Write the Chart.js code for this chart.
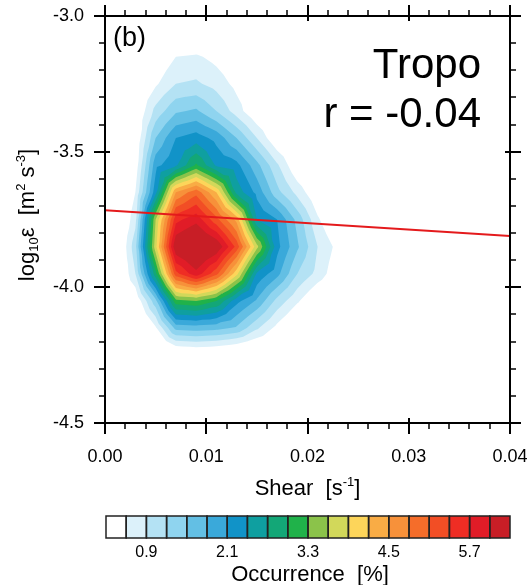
<!DOCTYPE html>
<html>
<head>
<meta charset="utf-8">
<script src="https://cdn.jsdelivr.net/npm/chart.js@4.4.1/dist/chart.umd.min.js"></script>
<style>
  html, body { margin: 0; padding: 0; background: #fff; }
  #wrap { width: 529px; height: 585px; }
</style>
</head>
<body>
<div id="wrap"><canvas id="chart" width="529" height="585"></canvas></div>
<script>
// Shear bin centres [s^-1]
const shearBins = [0.001, 0.003, 0.005, 0.007, 0.009, 0.011, 0.013, 0.015, 0.017, 0.019, 0.021, 0.023, 0.025];
// log10(epsilon) bin centres [m^2 s^-3]
const logEpsBins = [-3.05, -3.15, -3.25, -3.35, -3.45, -3.55, -3.65, -3.75, -3.85, -3.95, -4.05, -4.15, -4.25, -4.35];
// Occurrence [%]: one row per logEpsBins entry, one column per shearBins entry
const occurrence = [
  [0,    0,    0,    0,    0,    0,    0,    0,    0,    0,    0,    0,    0  ], // -3.05
  [0,    0,    0.3,  0.6,  0.65, 0.5,  0.3,  0.1,  0,    0,    0,    0,    0  ], // -3.15
  [0,    0.2,  0.55, 0.9,  0.95, 0.78, 0.5,  0.25, 0.05, 0,    0,    0,    0  ], // -3.25
  [0,    0.25, 1.0,  1.45, 1.55, 1.2,  0.75, 0.3,  0.05, 0,    0,    0,    0  ], // -3.35
  [0,    0.3,  1.5,  2.1,  2.25, 2.0,  1.5,  0.9,  0.3,  0.05, 0,    0,    0  ], // -3.45
  [0,    0.4,  2.0,  2.35, 3.05, 2.35, 2.2,  1.6,  0.95, 0.3,  0,    0,    0  ], // -3.55
  [0,    0.6,  2.3,  4.5,  5.0,  4.2,  2.6,  2.0,  1.3,  0.8,  0.3,  0,    0  ], // -3.65
  [0,    0.8,  3.6,  5.6,  5.9,  5.2,  4.4,  2.4,  2.1,  1.4,  0.65, 0.2,  0  ], // -3.75
  [0,    1.1,  3.8,  6.3,  6.6,  6.3,  5.3,  3.7,  2.2,  1.55, 0.9,  0.5,  0.1], // -3.85
  [0,    0.9,  2.9,  5.3,  5.9,  5.2,  4.0,  2.35, 1.9,  1.2,  0.8,  0.35, 0  ], // -3.95
  [0,    0.3,  1.4,  3.2,  3.3,  3.0,  2.2,  1.75, 1.1,  0.65, 0.2,  0,    0  ], // -4.05
  [0,    0,    0.55, 1.6,  1.65, 1.6,  1.45, 0.95, 0.5,  0.1,  0,    0,    0  ], // -4.15
  [0,    0,    0,    0.1,  0.16, 0.12, 0,    0,    0,    0,    0,    0,    0  ], // -4.25
  [0,    0,    0,    0,    0,    0,    0,    0,    0,    0,    0,    0,    0  ]  // -4.35
];
// Contour levels [%] and the fill used above each one
const contourLevels = [0.6, 0.9, 1.2, 1.5, 1.8, 2.1, 2.4, 2.7, 3.0, 3.3, 3.6, 3.9, 4.2, 4.5, 4.8, 5.1, 5.4, 5.7, 6.0];
const levelColors = [
  '#dcf1fa', '#b4e2f4', '#8fd4ef', '#63bfe4', '#3aa9da', '#1193c8', '#0f9fa0', '#13a777',
  '#20b24a', '#8bc34a', '#d2d85a', '#fdd55a', '#f9ac45', '#f7913a', '#f56d2a', '#f24e25',
  '#ef2d24', '#e11c27', '#c81e26'
];
// Linear fit of log10(epsilon) against shear
const fitShear = [0, 0.04];
const fitLogEps = [-3.716, -3.811];
// Axis ticks
const shearTicks = [0, 0.01, 0.02, 0.03, 0.04];
const logEpsTicks = [-4.5, -4.0, -3.5, -3.0];

const FONT = "'Liberation Sans', Arial, Helvetica, sans-serif";

// Keep the part of a triangle where the interpolated value is >= lev
function clipAbove(poly, lev) {
  const out = [];
  for (let i = 0; i < poly.length; i++) {
    const a = poly[i], b = poly[(i + 1) % poly.length];
    const ain = a.v >= lev, bin = b.v >= lev;
    if (ain) out.push(a);
    if (ain !== bin) {
      const t = (lev - a.v) / (b.v - a.v);
      out.push({ x: a.x + t * (b.x - a.x), y: a.y + t * (b.y - a.y), v: lev });
    }
  }
  return out;
}

const contourPlugin = {
  id: 'occurrenceContours',
  beforeDatasetsDraw(chart) {
    const { ctx, chartArea: a, scales: { x, y } } = chart;
    const px = shearBins.map(v => x.getPixelForValue(v));
    const py = logEpsBins.map(v => y.getPixelForValue(v));
    ctx.save();
    ctx.beginPath();
    ctx.rect(a.left, a.top, a.right - a.left, a.bottom - a.top);
    ctx.clip();
    contourLevels.forEach((lev, k) => {
      ctx.beginPath();
      for (let j = 0; j < py.length - 1; j++) {
        for (let i = 0; i < px.length - 1; i++) {
          const c = [
            { x: px[i],     y: py[j],     v: occurrence[j][i] },
            { x: px[i + 1], y: py[j],     v: occurrence[j][i + 1] },
            { x: px[i + 1], y: py[j + 1], v: occurrence[j + 1][i + 1] },
            { x: px[i],     y: py[j + 1], v: occurrence[j + 1][i] }
          ];
          if (Math.max(c[0].v, c[1].v, c[2].v, c[3].v) < lev) continue;
          const m = {
            x: (c[0].x + c[1].x) / 2,
            y: (c[0].y + c[3].y) / 2,
            v: (c[0].v + c[1].v + c[2].v + c[3].v) / 4
          };
          for (let t = 0; t < 4; t++) {
            const poly = clipAbove([c[t], c[(t + 1) % 4], m], lev);
            if (poly.length < 3) continue;
            ctx.moveTo(poly[0].x, poly[0].y);
            for (let q = 1; q < poly.length; q++) ctx.lineTo(poly[q].x, poly[q].y);
            ctx.closePath();
          }
        }
      }
      ctx.fillStyle = levelColors[k];
      ctx.fill();
    });
    ctx.restore();
  }
};

// Text made of runs with their own size and vertical shift (sub/superscripts)
function richWidth(ctx, runs) {
  let w = 0;
  runs.forEach(r => { ctx.font = r.size + 'px ' + FONT; w += ctx.measureText(r.t).width; });
  return w;
}
function drawRich(ctx, runs, cx, baseline) {
  let xx = cx - richWidth(ctx, runs) / 2;
  runs.forEach(r => {
    ctx.font = r.size + 'px ' + FONT;
    ctx.fillText(r.t, xx, baseline + (r.dy || 0));
    xx += ctx.measureText(r.t).width;
  });
}

const decorPlugin = {
  id: 'frameTicksTitles',
  afterDraw(chart) {
    const { ctx, chartArea: a, scales: { x, y } } = chart;
    ctx.save();
    ctx.strokeStyle = '#000';
    ctx.lineCap = 'butt';

    // tick marks on all four sides
    const tick = (x1, y1, x2, y2, w) => {
      ctx.lineWidth = w; ctx.beginPath(); ctx.moveTo(x1, y1); ctx.lineTo(x2, y2); ctx.stroke();
    };
    for (let i = 0; i <= 20; i++) {
      const p = Math.round(x.getPixelForValue(x.min + i * (x.max - x.min) / 20));
      const major = i % 5 === 0;
      const out = major ? 11 : 6, inn = major ? 5 : 0, w = major ? 2 : 1.5;
      tick(p, a.bottom - inn, p, a.bottom + out, w);
      tick(p, a.top + inn, p, a.top - out, w);
    }
    for (let i = 0; i <= 15; i++) {
      const p = Math.round(y.getPixelForValue(y.min + i * (y.max - y.min) / 15));
      const major = i % 5 === 0;
      const out = major ? 11 : 6, inn = major ? 5 : 0, w = major ? 2 : 1.5;
      tick(a.left + inn, p, a.left - out, p, w);
      tick(a.right - inn, p, a.right + out, p, w);
    }
    // plot frame
    ctx.lineWidth = 2;
    ctx.strokeRect(a.left, a.top, a.right - a.left, a.bottom - a.top);

    ctx.fillStyle = '#000';
    ctx.textBaseline = 'alphabetic';
    // axis titles
    ctx.textAlign = 'left';
    drawRich(ctx, [
      { t: 'Shear  [s', size: 22 }, { t: '-1', size: 13, dy: -9 }, { t: ']', size: 22 }
    ], (a.left + a.right) / 2, 495);
    ctx.save();
    ctx.translate(34, 215);
    ctx.rotate(-Math.PI / 2);
    drawRich(ctx, [
      { t: 'log', size: 22 }, { t: '10', size: 13, dy: 4 }, { t: '\u03b5', size: 22 },
      { t: '  [m', size: 22 }, { t: '2', size: 13, dy: -9 }, { t: ' s', size: 22 },
      { t: '-3', size: 13, dy: -9 }, { t: ']', size: 22 }
    ], 0, 0);
    ctx.restore();

    // panel annotations
    ctx.font = '27px ' + FONT;
    ctx.textAlign = 'left';
    ctx.fillText('(b)', a.left + 8, 46);
    ctx.font = '42px ' + FONT;
    ctx.textAlign = 'right';
    ctx.fillText('Tropo', 481, 78);
    ctx.fillText('r = -0.04', 481, 127);

    // colour bar: one box below the first level, then one per level
    const nBox = contourLevels.length + 1;
    const bx0 = 106, bx1 = 510, by0 = 516, by1 = 538;
    const bw = (bx1 - bx0) / nBox;
    for (let k = 0; k < nBox; k++) {
      ctx.fillStyle = k === 0 ? '#ffffff' : levelColors[k - 1];
      ctx.fillRect(bx0 + k * bw, by0, bw, by1 - by0);
    }
    ctx.lineWidth = 1.5;
    ctx.strokeStyle = '#222';
    for (let k = 0; k < nBox; k++) ctx.strokeRect(bx0 + k * bw, by0, bw, by1 - by0);
    ctx.fillStyle = '#000';
    ctx.font = '16px ' + FONT;
    ctx.textAlign = 'center';
    ctx.textBaseline = 'middle';
    contourLevels.forEach((lev, k) => {
      if (k % 4 === 1) ctx.fillText(lev.toFixed(1), bx0 + (k + 1) * bw, 553);
    });
    ctx.textBaseline = 'alphabetic';
    ctx.font = '22px ' + FONT;
    ctx.fillText('Occurrence  [%]', (bx0 + bx1) / 2 + 2, 581);
    ctx.restore();
  }
};

new Chart(document.getElementById('chart'), {
  type: 'scatter',
  data: {
    datasets: [{
      label: 'fit',
      data: fitShear.map((s, i) => ({ x: s, y: fitLogEps[i] })),
      showLine: true,
      borderColor: '#e41a1c',
      borderWidth: 2,
      pointRadius: 0,
      fill: false
    }]
  },
  options: {
    responsive: false,
    animation: false,
    devicePixelRatio: 1,
    layout: { padding: { top: 16, right: 19, bottom: 0, left: 0 } },
    plugins: { legend: { display: false }, tooltip: { enabled: false } },
    scales: {
      x: {
        type: 'linear', min: 0, max: 0.04,
        afterFit(s) { s.height = 162; s.paddingLeft = 0; s.paddingRight = 0; },
        afterBuildTicks(s) { s.ticks = shearTicks.map(v => ({ value: v })); },
        ticks: {
          callback: v => Number(v).toFixed(2), color: '#000', padding: 23,
          maxRotation: 0, autoSkip: false, font: { family: FONT, size: 18 }
        },
        grid: { display: false, drawTicks: false },
        border: { display: false }
      },
      y: {
        type: 'linear', min: -4.5, max: -3.0,
        afterFit(s) { s.width = 105; s.paddingTop = 0; s.paddingBottom = 0; },
        afterBuildTicks(s) { s.ticks = logEpsTicks.map(v => ({ value: v })); },
        ticks: {
          callback: v => Number(v).toFixed(1), color: '#000', padding: 21,
          autoSkip: false, font: { family: FONT, size: 18 }
        },
        grid: { display: false, drawTicks: false },
        border: { display: false }
      }
    }
  },
  plugins: [contourPlugin, decorPlugin]
});
</script>
</body>
</html>
